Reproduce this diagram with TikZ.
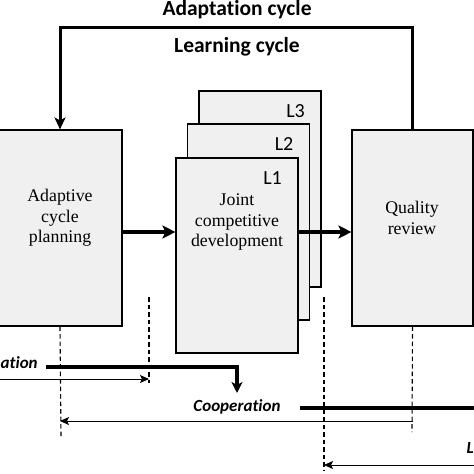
\documentclass[tikz,border=0pt]{standalone}
\usepackage{fontspec}
\setmainfont{Liberation Serif}
\newfontfamily\calibri[Ligatures=NoCommon]{Carlito}
\usetikzlibrary{arrows.meta}

\begin{document}
\begin{tikzpicture}
[x=1pt,y=-1pt,
 boxdecorate/.style={shape=rectangle,draw,fill=black!6,line width=1.1pt,inner sep=0pt},%
 textdecorate/.style={align=center,font=\fontsize{17.8}{20.5}\selectfont},%
 capdecorate/.style={font=\calibri\bfseries\fontsize{21.5}{24}\selectfont},%
 phasedecorate/.style={font=\calibri\bfseries\itshape\fontsize{17}{20}\selectfont},%
 flowline/.style={line width=3.6pt,-{Stealth[length=13pt,width=13pt,inset=3pt]}},%
 loopline/.style={line width=3pt,-{Stealth[length=12pt,width=11pt,inset=3pt]}},%
 spanline/.style={line width=0.9pt,-{Stealth[length=9pt,width=8pt,inset=2pt]}},%
 barline/.style={line width=3.4pt},%
 guideline/.style={line width=1.1pt,dash pattern=on 4.5pt off 3pt}]
\useasboundingbox (0,0) rectangle (474,474);
\clip (0,0) rectangle (474,474);
%% boxes
\node (plan) at (60,228) [boxdecorate,minimum width=124pt,minimum height=196pt] {};
\node (quality) at (412.5,228) [boxdecorate,minimum width=121pt,minimum height=196pt] {};
\foreach \nodename/\x/\y/\h in {L3/260/189/196, L2/248.5/222/196, L1/237/255.5/195}
{
  \node (\nodename) at (\x,\y) [boxdecorate,minimum width=122pt,minimum height=\h pt] {};
  \node (\nodename label) at ([shift={(-26,21)}]\nodename.north east)
    [font=\calibri\fontsize{20}{22}\selectfont] {\nodename};
}
%% texts in the boxes
\node (plantext) at (60,218) [textdecorate] {Adaptive\\cycle\\planning};
\node (devtext) at (237,222) [textdecorate] {Joint\\competitive\\development};
\node (qualitytext) at (412,218) [textdecorate] {Quality\\review};
%% cycles
\node (adapt) at (237,10) [capdecorate] {Adaptation cycle};
\node (learn) at (237,47) [capdecorate] {Learning cycle};
\draw[loopline] (quality.north) -- ++(0,-102) -| (plan.north);
\draw[flowline] (plan.east |- 0,232) -- (L1.west |- 0,232);
\draw[flowline] (L1.east |- 0,232) -- (quality.west |- 0,232);
%% guides
\coordinate (planend) at (61,437);
\coordinate (devtop) at (149,297);
\coordinate (devend) at (149,383);
\coordinate (L3top) at (324,297);
\coordinate (L3end) at (324,470);
\coordinate (qualityend) at (412,432);
\path
\foreach \startnode/\endnode in {plan.south/planend, devtop/devend,
  L3top/L3end, quality.south/qualityend}
{
  (\startnode) edge[guideline] (\endnode)
};
%% phases
\node (prevphase) at (0,363) [phasedecorate,anchor=west,inner xsep=0.5pt] {ation};
\node (coop) at (237,407) [phasedecorate] {Cooperation};
\node (nextphase) at (463,448) [phasedecorate,anchor=west] {L};
\coordinate (prevbar) at (46,367);
\coordinate (prevturn) at (237,367);
\coordinate (prevdrop) at (237,393);
\draw[barline,-{Stealth[length=11pt,width=11pt,inset=3pt]}] (prevbar) -- (prevturn) -- (prevdrop);
\coordinate (coopbar) at (300,408);
\coordinate (coopbarend) at (476,408);
\draw[barline] (coopbar) -- (coopbarend);
%% spans
\coordinate (prevstart) at (-2,379);
\draw[spanline] (prevstart) -- (devend |- 0,379);
\draw[spanline,{Stealth[length=9pt,width=8pt,inset=2pt]}-] (plan.south |- 0,421) -- (quality.south |- 0,421);
\coordinate (nextstart) at (476,465);
\draw[spanline] (nextstart) -- (L3top |- 0,465);
\end{tikzpicture}
\end{document}
